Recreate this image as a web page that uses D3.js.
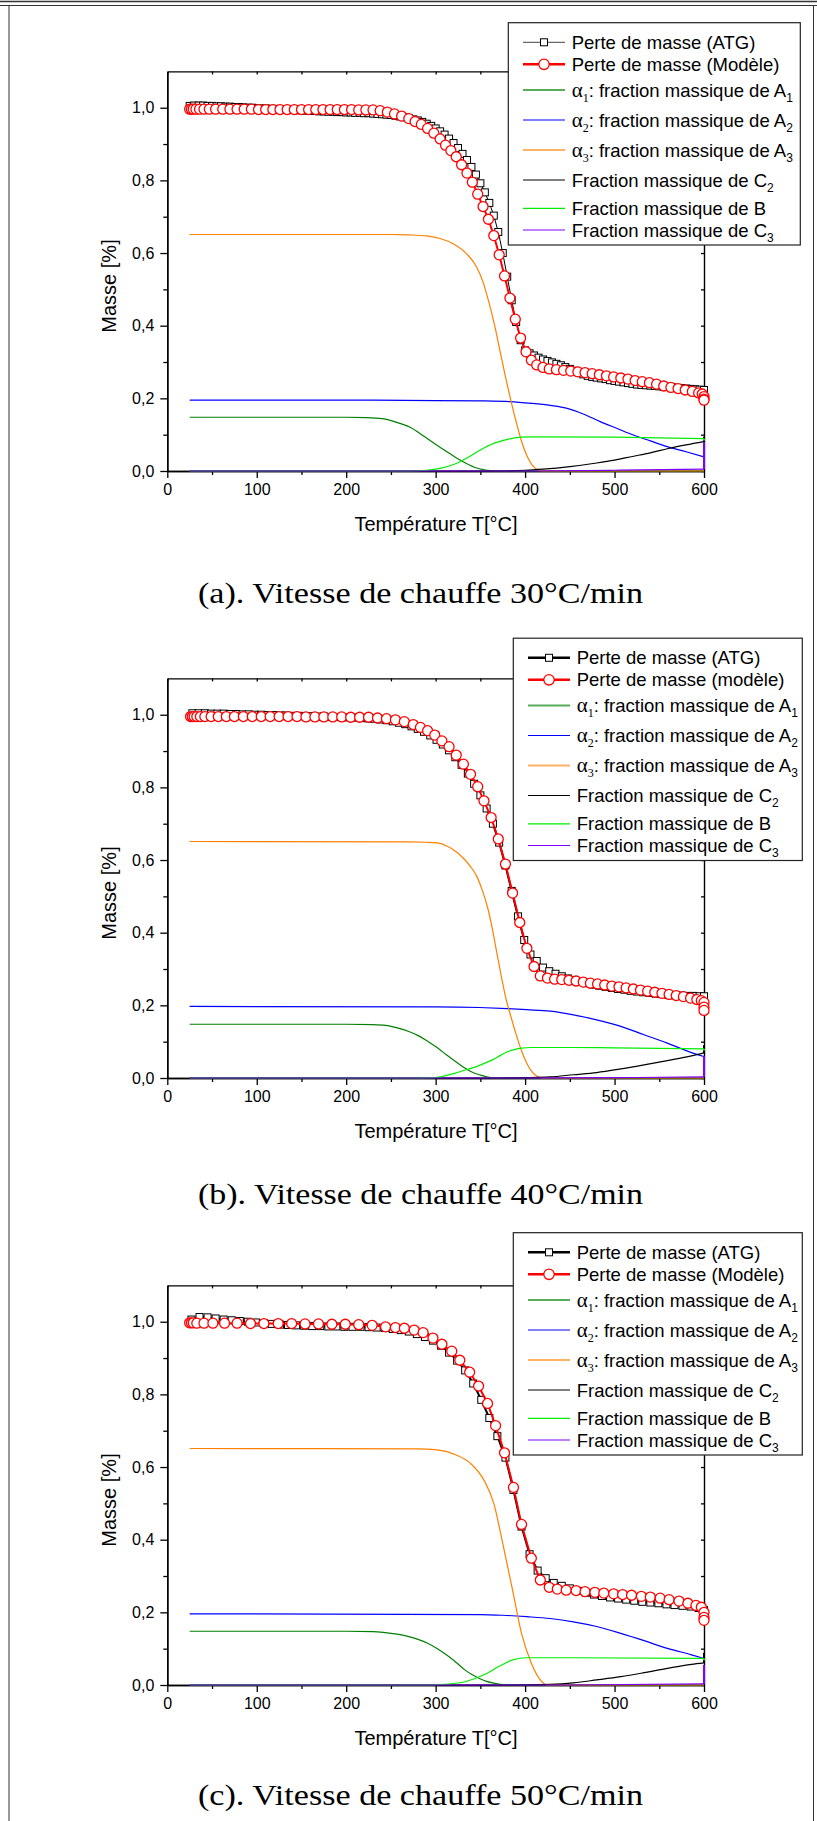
<!DOCTYPE html>
<html><head><meta charset="utf-8">
<script src="https://cdn.jsdelivr.net/npm/d3@7"></script>
<style>body{margin:0;background:#fff}svg{display:block}</style>
</head><body>
<svg id="fig" width="817" height="1821"></svg>
<script>
// ---------------- DATA ----------------
const xTicks = [0,100,200,300,400,500,600];
const xMinor = [50,150,250,350,450,550];
const yTicks = [0,0.2,0.4,0.6,0.8,1.0];
const yMinor = [0.1,0.3,0.5,0.7,0.9];
const captions = ["(a). Vitesse de chauffe 30°C/min","(b). Vitesse de chauffe 40°C/min","(c). Vitesse de chauffe 50°C/min"];
const modelNames = ["Perte de masse (Modèle)","Perte de masse (modèle)","Perte de masse (Modèle)"];

// Panel a (30 °C/min)
const atgA = [[25,1.005],[30,1.006],[35,1.006],[40,1.006],[45,1.005],[50,1.005],[55,1.004],[60,1.004],[65,1.003],[70,1.003],[75,1.002],[80,1.002],[85,1.001],[90,1.000],[95,1.000],[100,0.999],[105,0.998],[110,0.998],[115,0.997],[120,0.997],[125,0.996],[130,0.995],[135,0.995],[140,0.994],[145,0.993],[150,0.993],[155,0.992],[160,0.991],[165,0.991],[170,0.990],[175,0.990],[180,0.989],[185,0.989],[190,0.988],[195,0.988],[200,0.987],[205,0.987],[210,0.986],[215,0.986],[220,0.985],[225,0.985],[230,0.984],[235,0.983],[240,0.982],[245,0.981],[250,0.980],[255,0.978],[260,0.976],[265,0.974],[270,0.971],[275,0.968],[280,0.965],[285,0.961],[290,0.956],[295,0.950],[300,0.943],[305,0.935],[310,0.926],[315,0.915],[320,0.903],[325,0.889],[330,0.873],[335,0.856],[340,0.837],[345,0.816],[350,0.792],[355,0.767],[360,0.738],[365,0.703],[370,0.658],[375,0.600],[380,0.535],[385,0.470],[390,0.410],[395,0.360],[400,0.332],[405,0.324],[410,0.318],[415,0.312],[420,0.307],[425,0.303],[430,0.299],[435,0.295],[440,0.291],[445,0.286],[450,0.281],[455,0.276],[460,0.271],[465,0.266],[470,0.262],[475,0.259],[480,0.257],[485,0.255],[490,0.253],[495,0.250],[500,0.248],[505,0.246],[510,0.244],[515,0.242],[520,0.240],[525,0.238],[530,0.237],[535,0.236],[540,0.235],[545,0.234],[550,0.233],[555,0.232],[560,0.231],[565,0.230],[570,0.229],[575,0.228],[580,0.227],[585,0.226],[590,0.225],[595,0.224],[600,0.223]];
const modelA = [[25,0.996],[27,0.996],[29,0.996],[32,0.996],[36,0.996],[41,0.996],[47,0.996],[54,0.996],[62,0.996],[70,0.996],[78,0.996],[86,0.996],[94,0.996],[102,0.995],[110,0.995],[118,0.995],[126,0.995],[134,0.995],[142,0.995],[150,0.995],[158,0.995],[166,0.995],[174,0.995],[182,0.995],[190,0.995],[198,0.995],[206,0.995],[214,0.994],[222,0.994],[230,0.994],[238,0.992],[246,0.988],[254,0.983],[262,0.977],[270,0.970],[277,0.962],[284,0.954],[291,0.943],[298,0.930],[305,0.914],[311,0.897],[317,0.882],[323,0.865],[329,0.843],[335,0.820],[341,0.795],[347,0.762],[353,0.728],[359,0.693],[365,0.648],[371,0.595],[377,0.537],[383,0.476],[389,0.418],[395,0.366],[401,0.328],[407,0.305],[413,0.292],[420,0.285],[427,0.281],[435,0.279],[443,0.277],[451,0.275],[459,0.273],[467,0.271],[475,0.268],[483,0.265],[491,0.262],[499,0.259],[507,0.256],[515,0.253],[523,0.249],[531,0.246],[539,0.243],[547,0.239],[555,0.234],[563,0.230],[571,0.227],[579,0.223],[587,0.219],[594,0.215],[598,0.212],[600,0.205],[600,0.198],[600,0.195]];
const alpha1A = [[25,0.148],[200,0.148],[222,0.147],[240,0.144],[260,0.131],[272,0.120],[282,0.104],[292,0.087],[302,0.070],[312,0.054],[322,0.038],[335,0.020],[345,0.009],[353,0.004],[362,0.001],[372,0],[600,0]];
const alpha2A = [[25,0.195],[200,0.195],[300,0.194],[350,0.193],[383,0.191],[408,0.186],[430,0.180],[446,0.173],[465,0.157],[484,0.136],[503,0.117],[521,0.099],[540,0.083],[559,0.067],[580,0.053],[600,0.039]];
const alpha3A = [[25,0.651],[250,0.651],[270,0.650],[290,0.647],[305,0.640],[320,0.625],[335,0.597],[345,0.565],[353,0.520],[360,0.460],[366,0.400],[372,0.330],[378,0.260],[384,0.195],[390,0.135],[396,0.082],[402,0.042],[408,0.016],[414,0.003],[420,0],[600,0]];
const c2A = [[25,0],[360,0],[400,0.002],[420,0.005],[450,0.012],[480,0.022],[500,0.030],[520,0.040],[540,0.050],[560,0.062],[580,0.072],[600,0.081],[600,0.094]];
const bA = [[25,0],[270,0],[290,0.002],[305,0.007],[320,0.018],[335,0.036],[350,0.058],[365,0.076],[380,0.087],[395,0.093],[410,0.094],[500,0.093],[600,0.089],[600,0.084]];
const c3A = [[25,0],[400,0],[500,0.002],[600,0.005],[600,0.080]];

// Panel b (40 °C/min)
const atgB = [[28,1.004],[35,1.004],[42,1.004],[49,1.003],[56,1.003],[63,1.003],[70,1.002],[77,1.002],[84,1.001],[91,1.001],[98,1.000],[105,1.000],[112,0.999],[119,0.999],[126,0.998],[133,0.998],[140,0.997],[147,0.997],[154,0.996],[161,0.996],[168,0.995],[175,0.995],[182,0.994],[189,0.994],[196,0.993],[203,0.993],[210,0.992],[217,0.991],[224,0.990],[231,0.989],[238,0.987],[245,0.985],[252,0.982],[259,0.978],[266,0.974],[273,0.968],[280,0.961],[287,0.953],[294,0.943],[301,0.931],[308,0.918],[315,0.902],[322,0.883],[329,0.862],[336,0.838],[343,0.810],[350,0.778],[357,0.742],[364,0.700],[371,0.648],[378,0.585],[385,0.515],[392,0.445],[399,0.380],[406,0.340],[413,0.322],[420,0.304],[427,0.294],[434,0.287],[441,0.280],[448,0.274],[455,0.269],[462,0.265],[469,0.261],[476,0.257],[483,0.254],[490,0.251],[497,0.248],[504,0.245],[511,0.243],[518,0.240],[525,0.238],[532,0.236],[539,0.234],[546,0.232],[553,0.231],[560,0.229],[567,0.228],[574,0.227],[581,0.226],[588,0.226],[595,0.225],[600,0.225]];
const modelB = [[26,0.995],[28,0.995],[30,0.995],[33,0.995],[37,0.995],[42,0.995],[49,0.995],[57,0.995],[66,0.995],[75,0.995],[85,0.995],[95,0.995],[105,0.995],[115,0.995],[125,0.995],[135,0.995],[145,0.995],[155,0.994],[165,0.994],[175,0.994],[185,0.994],[195,0.994],[205,0.993],[215,0.993],[225,0.993],[235,0.991],[245,0.989],[255,0.986],[265,0.981],[275,0.973],[283,0.965],[291,0.956],[299,0.944],[307,0.928],[315,0.912],[323,0.889],[331,0.864],[339,0.836],[347,0.802],[354,0.763],[362,0.717],[370,0.658],[378,0.589],[386,0.509],[394,0.428],[402,0.357],[410,0.307],[417,0.281],[425,0.275],[433,0.272],[441,0.271],[449,0.269],[457,0.267],[465,0.264],[473,0.261],[481,0.259],[489,0.256],[497,0.253],[505,0.251],[513,0.248],[521,0.245],[529,0.242],[537,0.239],[545,0.236],[553,0.233],[561,0.230],[569,0.227],[577,0.224],[585,0.220],[592,0.216],[597,0.213],[600,0.208],[600,0.195],[600,0.186]];
const alpha1B = [[25,0.148],[200,0.148],[230,0.147],[244,0.145],[257,0.138],[270,0.128],[281,0.116],[291,0.101],[302,0.083],[312,0.064],[323,0.044],[333,0.027],[341,0.016],[349,0.009],[357,0.003],[365,0],[600,0]];
const alpha2B = [[25,0.197],[300,0.196],[349,0.194],[380,0.191],[402,0.188],[428,0.184],[454,0.174],[480,0.160],[507,0.142],[533,0.119],[559,0.096],[586,0.070],[600,0.059]];
const alpha3B = [[25,0.651],[270,0.650],[290,0.649],[302,0.647],[313,0.638],[323,0.623],[331,0.605],[339,0.582],[346,0.555],[352,0.518],[358,0.470],[363,0.415],[368,0.350],[373,0.285],[378,0.225],[384,0.170],[390,0.120],[396,0.075],[402,0.040],[408,0.016],[414,0.004],[420,0],[600,0]];
const c2B = [[25,0],[370,0],[400,0.001],[428,0.003],[454,0.009],[480,0.015],[507,0.025],[533,0.036],[559,0.048],[586,0.061],[600,0.069],[600,0.090]];
const bB = [[25,0],[280,0],[295,0.001],[302,0.002],[312,0.007],[323,0.014],[333,0.022],[344,0.030],[355,0.041],[365,0.052],[373,0.063],[381,0.073],[389,0.079],[396,0.082],[407,0.084],[450,0.084],[500,0.083],[600,0.080],[600,0.076]];
const c3B = [[25,0],[400,0],[500,0.001],[600,0.003],[600,0.060]];

// Panel c (50 °C/min)
const atgC = [[27,1.006],[36,1.013],[45,1.012],[54,1.009],[63,1.006],[72,1.004],[81,1.002],[90,1.000],[99,0.998],[108,0.996],[117,0.994],[126,0.992],[135,0.991],[144,0.990],[153,0.989],[162,0.988],[171,0.988],[180,0.987],[189,0.987],[198,0.986],[207,0.986],[216,0.986],[225,0.985],[234,0.984],[243,0.983],[252,0.980],[261,0.977],[270,0.973],[279,0.966],[288,0.958],[297,0.948],[306,0.934],[315,0.915],[324,0.893],[333,0.866],[342,0.830],[351,0.785],[360,0.735],[369,0.685],[378,0.626],[387,0.537],[396,0.436],[405,0.360],[414,0.315],[423,0.294],[432,0.281],[441,0.273],[450,0.266],[459,0.259],[468,0.254],[477,0.249],[486,0.245],[495,0.241],[504,0.238],[513,0.235],[522,0.232],[531,0.229],[540,0.227],[549,0.225],[558,0.222],[567,0.220],[576,0.218],[585,0.216],[594,0.212],[600,0.206]];
const modelC = [[25,0.997],[27,0.997],[29,0.997],[33,0.996],[41,0.996],[51,0.996],[64,0.996],[78,0.996],[93,0.995],[108,0.995],[124,0.995],[139,0.995],[154,0.994],[169,0.994],[184,0.993],[199,0.993],[214,0.992],[229,0.990],[244,0.986],[255,0.984],[265,0.982],[276,0.977],[286,0.970],[297,0.955],[307,0.938],[318,0.919],[327,0.894],[338,0.861],[348,0.823],[358,0.775],[367,0.714],[377,0.639],[387,0.544],[396,0.442],[407,0.349],[417,0.289],[427,0.269],[436,0.264],[446,0.261],[457,0.260],[467,0.257],[478,0.255],[488,0.253],[499,0.251],[509,0.249],[519,0.247],[530,0.244],[540,0.242],[551,0.239],[561,0.235],[572,0.231],[582,0.225],[591,0.219],[597,0.214],[600,0.200],[600,0.186],[600,0.178]];
const alpha1C = [[25,0.148],[200,0.148],[230,0.147],[244,0.144],[257,0.140],[270,0.133],[281,0.125],[291,0.115],[302,0.100],[312,0.083],[323,0.062],[333,0.041],[341,0.028],[349,0.018],[357,0.010],[365,0.005],[375,0.001],[385,0],[600,0]];
const alpha2C = [[25,0.196],[350,0.194],[375,0.192],[402,0.188],[428,0.183],[454,0.174],[480,0.161],[507,0.142],[533,0.122],[559,0.101],[586,0.083],[600,0.073]];
const alpha3C = [[25,0.651],[280,0.650],[302,0.647],[323,0.633],[339,0.610],[354,0.564],[365,0.500],[375,0.390],[386,0.261],[396,0.142],[407,0.060],[417,0.014],[425,0],[600,0]];
const c2C = [[25,0],[380,0],[428,0.002],[454,0.006],[480,0.014],[507,0.023],[533,0.034],[559,0.046],[586,0.057],[600,0.061],[600,0.089]];
const bC = [[25,0],[290,0],[310,0.002],[333,0.009],[354,0.028],[370,0.050],[386,0.069],[402,0.075],[450,0.075],[600,0.073],[600,0.068]];
const c3C = [[25,0],[450,0],[600,0.003],[600,0.055]];

// ---------------- LAYOUT / STYLE ----------------
const COL = {a1:"#008000", a2:"#0000ff", a3:"#ff8000", c2:"#000000", b:"#00ee00", c3:"#8000ff", red:"#ff0000"};
const panels = [
  {dy:0,    legDx:0, legDy:0,      legW:292, atgW:1, atg:atgA, model:modelA, comps:[alpha1A,alpha2A,alpha3A,c2A,bA,c3A], capY:603},
  {dy:607,  legDx:5, legDy:615.5,  legW:289, atgW:2, atg:atgB, model:modelB, comps:[alpha1B,alpha2B,alpha3B,c2B,bB,c3B], capY:1204},
  {dy:1214, legDx:5, legDy:1210,   legW:289, atgW:2, atg:atgC, model:modelC, comps:[alpha1C,alpha2C,alpha3C,c2C,bC,c3C], capY:1805}
];
const compColors = [COL.a1, COL.a2, COL.a3, COL.c2, COL.b, COL.c3];

const svg = d3.select("#fig");
const SANS = "'Liberation Sans', Arial, sans-serif";
const SERIF = "'Liberation Serif', 'Times New Roman', serif";

// page frame
svg.append("line").attr("x1",0).attr("x2",817).attr("y1",1.5).attr("y2",1.5).attr("stroke","#333").attr("stroke-width",1.6);
svg.append("line").attr("x1",0).attr("x2",817).attr("y1",5.5).attr("y2",5.5).attr("stroke","#333").attr("stroke-width",1);
svg.append("line").attr("x1",9).attr("x2",9).attr("y1",6).attr("y2",1821).attr("stroke","#333").attr("stroke-width",1);
svg.append("line").attr("x1",813.5).attr("x2",813.5).attr("y1",6).attr("y2",1821).attr("stroke","#333").attr("stroke-width",1);

const fmtY = d => d3.format(".1f")(d).replace(".", ",");

panels.forEach((P, pi) => {
  const x = d3.scaleLinear().domain([0,600]).range([167.3,704]);
  const y = d3.scaleLinear().domain([0,1.1]).range([471+P.dy, 71.4+P.dy]);

  // axes (drawn first; data plotted over them, as in the original)
  const ax = svg.append("g").attr("font-family", SANS);
  ax.append("g").attr("transform",`translate(0,${y(0)})`)
    .call(d3.axisBottom(x).tickValues(xTicks).tickSize(7).tickSizeOuter(0).tickPadding(6).tickFormat(d=>d));
  ax.append("g").attr("transform",`translate(0,${y(0)})`)
    .call(d3.axisBottom(x).tickValues(xMinor).tickSize(4).tickSizeOuter(0).tickFormat(""));
  ax.append("g").attr("transform",`translate(${x(0)},0)`)
    .call(d3.axisLeft(y).tickValues(yTicks).tickSize(7).tickSizeOuter(0).tickPadding(6).tickFormat(fmtY));
  ax.append("g").attr("transform",`translate(${x(0)},0)`)
    .call(d3.axisLeft(y).tickValues(yMinor).tickSize(4).tickSizeOuter(0).tickFormat(""));
  ax.append("g").attr("transform",`translate(0,${y(1.1)})`)
    .call(d3.axisTop(x).tickValues(xTicks.concat(xMinor)).tickSize(-3).tickSizeOuter(0).tickFormat(""));
  ax.append("g").attr("transform",`translate(${x(600)},0)`)
    .call(d3.axisRight(y).tickValues(yTicks.concat(yMinor)).tickSize(-3).tickSizeOuter(0).tickFormat(""));
  ax.selectAll("path.domain").attr("stroke","#000").attr("stroke-width",1.4);
  ax.selectAll(".tick line").attr("stroke","#000").attr("stroke-width",1.3);
  ax.selectAll(".tick text").attr("font-size",16).attr("font-family",SANS).attr("fill","#000");

  const g = svg.append("g");

  // component curves
  P.comps.forEach((data, ci) => {
    let cut = data.length;
    for (let i=1;i<data.length;i++){ if (data[i][0]===data[i-1][0]) { cut=i; break; } }
    const main = data.slice(0, cut);
    const tail = data.slice(cut-1);
    const lineM = d3.line().x(d=>x(d[0])).y(d=>y(d[1])).curve(d3.curveMonotoneX);
    g.append("path").attr("d", lineM(main)).attr("fill","none")
      .attr("stroke", compColors[ci]).attr("stroke-width", 1.2);
    if (tail.length > 1) {
      const lineT = d3.line().x(d=>x(d[0])).y(d=>y(d[1]));
      g.append("path").attr("d", lineT(tail)).attr("fill","none")
        .attr("stroke", compColors[ci]).attr("stroke-width", 2);
    }
  });

  // ATG
  const lin = d3.line().x(d=>x(d[0])).y(d=>y(d[1]));
  g.append("path").attr("d", lin(P.atg)).attr("fill","none").attr("stroke","#000").attr("stroke-width",P.atgW);
  g.selectAll("rect.atg").data(P.atg).enter().append("rect")
    .attr("x", d=>x(d[0])-3.5).attr("y", d=>y(d[1])-3.5).attr("width",7).attr("height",7)
    .attr("fill","#fff").attr("stroke","#000").attr("stroke-width",1);

  // Model
  g.append("path").attr("d", lin(P.model)).attr("fill","none").attr("stroke",COL.red).attr("stroke-width",2);
  g.selectAll("circle.mod").data(P.model).enter().append("circle")
    .attr("cx", d=>x(d[0])).attr("cy", d=>y(d[1])).attr("r",5)
    .attr("fill","#fff").attr("stroke",COL.red).attr("stroke-width",1.3);

  // axis titles
  svg.append("text").attr("x", 436).attr("y", 531+P.dy).attr("text-anchor","middle")
    .attr("font-family",SANS).attr("font-size",20).text("Température T[°C]");
  svg.append("text").attr("transform",`translate(116,${286+P.dy}) rotate(-90)`).attr("text-anchor","middle")
    .attr("font-family",SANS).attr("font-size",20).text("Masse [%]");

  // legend
  const L = svg.append("g").attr("transform",`translate(${P.legDx},${P.legDy})`);
  L.append("rect").attr("x",508.3).attr("y",22.7).attr("width",P.legW).attr("height",222.3)
    .attr("fill","#fff").attr("stroke","#222").attr("stroke-width",1.2);
  const rowY = [42.3, 64.3, 90, 120, 150, 180, 208.3, 230];
  const labels = [
    [{t:"Perte de masse (ATG)"}],
    [{t:modelNames[pi]}],
    [{t:"α",s:1},{t:"1",s:1,sub:1},{t:": fraction massique de A"},{t:"1",sub:1}],
    [{t:"α",s:1},{t:"2",s:1,sub:1},{t:": fraction massique de A"},{t:"2",sub:1}],
    [{t:"α",s:1},{t:"3",s:1,sub:1},{t:": fraction massique de A"},{t:"3",sub:1}],
    [{t:"Fraction massique de C"},{t:"2",sub:1}],
    [{t:"Fraction massique de B"}],
    [{t:"Fraction massique de C"},{t:"3",sub:1}]
  ];
  const symColor = [null, null, COL.a1, COL.a2, COL.a3, COL.c2, COL.b, COL.c3];
  const symOpacity = [1,1,0.65,1,0.6,1,1,1];
  rowY.forEach((ry, i) => {
    if (i === 0) {
      L.append("line").attr("x1",523).attr("x2",565).attr("y1",ry).attr("y2",ry)
        .attr("stroke", pi===0 ? "#444" : "#000").attr("stroke-width", pi===0 ? 1 : 2.5);
      L.append("rect").attr("x",540.5).attr("y",ry-3.5).attr("width",7).attr("height",7)
        .attr("fill","#fff").attr("stroke","#000").attr("stroke-width",1);
    } else if (i === 1) {
      L.append("line").attr("x1",523).attr("x2",565).attr("y1",ry).attr("y2",ry)
        .attr("stroke",COL.red).attr("stroke-width",2.5);
      L.append("circle").attr("cx",544).attr("cy",ry).attr("r",5.2)
        .attr("fill","#fff").attr("stroke",COL.red).attr("stroke-width",1.3);
    } else {
      L.append("line").attr("x1",523).attr("x2",565).attr("y1",ry).attr("y2",ry)
        .attr("stroke",symColor[i]).attr("stroke-opacity",symOpacity[i])
        .attr("stroke-width", (i===2||i===4) ? 2 : 1.2);
    }
    const tx = L.append("text").attr("x",571.7).attr("y",ry+6.6)
      .attr("font-family",SANS).attr("font-size",18.5).attr("fill","#000");
    let shifted = false;
    labels[i].forEach(p => {
      const ts = tx.append("tspan").text(p.t);
      if (p.s) ts.attr("font-family",SERIF);
      if (p.sub) {
        ts.attr("font-size", 12).attr("dy", 5);
        shifted = true;
      } else {
        if (p.s) ts.attr("font-size", 21);
        if (shifted) { ts.attr("dy", -5); shifted = false; }
      }
    });
  });

  // caption
  svg.append("text").attr("x",198).attr("y",P.capY).attr("font-family",SERIF).attr("font-size",30)
    .attr("textLength",445).attr("lengthAdjust","spacingAndGlyphs").attr("fill","#000").text(captions[pi]);
});
</script>
</body></html>
